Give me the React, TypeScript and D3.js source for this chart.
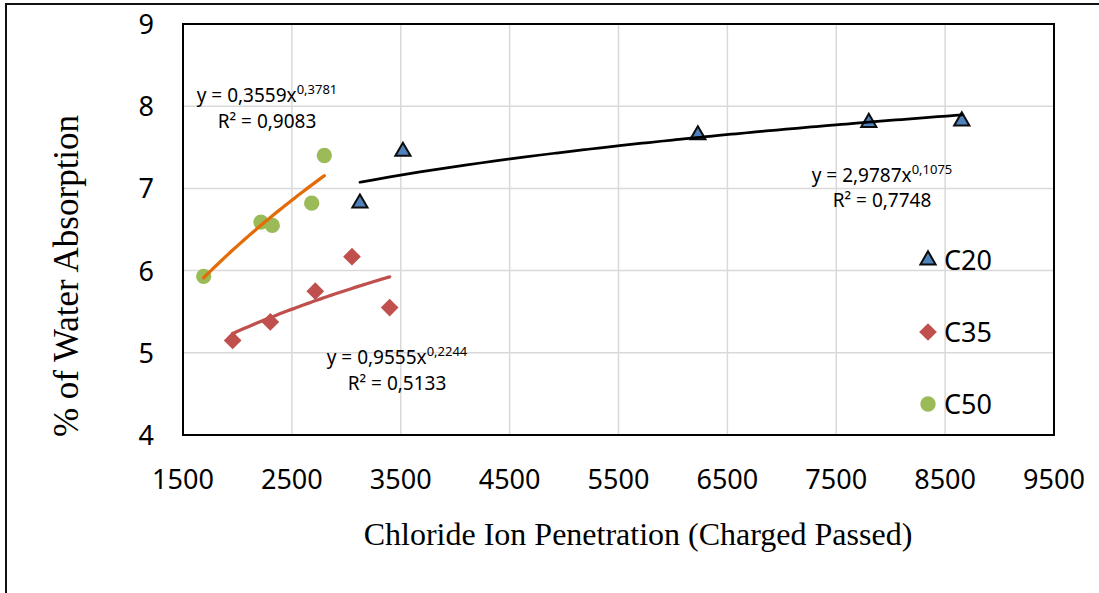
import React, { useEffect, useRef } from 'react';
import * as d3 from 'd3';

// x ticks (charge passed) and y ticks (% absorption)
const xTicks = [1500, 2500, 3500, 4500, 5500, 6500, 7500, 8500, 9500];
const yTicks = [4, 5, 6, 7, 8, 9];

const c20X = [3125, 3520, 6229, 7799, 8653];
const c20Y = [6.82, 7.45, 7.65, 7.8, 7.82];
const c35X = [1956, 2302, 2715, 3052, 3398];
const c35Y = [5.15, 5.375, 5.75, 6.17, 5.55];
const c50X = [1690, 2216, 2320, 2682, 2798];
const c50Y = [5.93, 6.59, 6.55, 6.82, 7.4];

// power trendline coefficients y = a * x^b (as printed on the chart)
const c20Fit = [2.9787, 0.1075];
const c35Fit = [0.9555, 0.2244];
const c50Fit = [0.3559, 0.3781];

const seriesNames = ['C20', 'C35', 'C50'];
const eqText = ['y = 2,9787x', 'y = 0,9555x', 'y = 0,3559x'];
const eqPow = ['0,1075', '0,2244', '0,3781'];
const r2Text = ['R² = 0,7748', 'R² = 0,5133', 'R² = 0,9083'];

const App = () => {
  const ref = useRef(null);

  const graph = () => {
    const svg = d3.select(ref.current);
    svg.selectAll('*').remove();

    const left = 183, right = 1054, top = 24, bottom = 435;
    const x = d3.scaleLinear().domain([1500, 9500]).range([left, right]);
    const y = d3.scaleLinear().domain([4, 9]).range([bottom, top]);

    const font = "'Noto Sans', 'Open Sans', sans-serif";
    const serif = "'Liberation Serif', 'Times New Roman', serif";

    // outer frame of the figure
    svg.append('path')
      .attr('d', 'M6,600 L6,4 L1099,4')
      .attr('fill', 'none')
      .attr('stroke', '#111')
      .attr('stroke-width', 2);

    // grid
    const grid = svg.append('g').attr('stroke', '#d9d9d9').attr('stroke-width', 1.5);
    grid.selectAll('line.v')
      .data(xTicks)
      .enter().append('line')
      .attr('x1', d => x(d)).attr('x2', d => x(d))
      .attr('y1', top).attr('y2', bottom);
    grid.selectAll('line.h')
      .data(yTicks)
      .enter().append('line')
      .attr('x1', left).attr('x2', right)
      .attr('y1', d => y(d)).attr('y2', d => y(d));

    svg.append('rect')
      .attr('x', left).attr('y', top)
      .attr('width', right - left).attr('height', bottom - top)
      .attr('fill', 'none')
      .attr('stroke', '#000')
      .attr('stroke-width', 2);

    // tick labels
    svg.append('g')
      .selectAll('text')
      .data(xTicks)
      .enter().append('text')
      .attr('x', d => x(d))
      .attr('y', 489)
      .attr('text-anchor', 'middle')
      .style('font-family', font)
      .style('font-size', '27px')
      .text(d => d);

    svg.append('g')
      .selectAll('text')
      .data(yTicks)
      .enter().append('text')
      .attr('x', 154)
      .attr('y', d => y(d) + 10)
      .attr('text-anchor', 'end')
      .style('font-family', font)
      .style('font-size', '27px')
      .text(d => d);

    // axis titles
    svg.append('text')
      .attr('x', 638)
      .attr('y', 545)
      .attr('text-anchor', 'middle')
      .style('font-family', serif)
      .style('font-size', '32px')
      .text('Chloride Ion Penetration (Charged Passed)');

    svg.append('text')
      .attr('transform', 'translate(78, 276) rotate(-90)')
      .attr('text-anchor', 'middle')
      .style('font-family', serif)
      .style('font-size', '35px')
      .text('% of Water Absorption');

    const diamond = d3.symbolDiamond2 || d3.symbolDiamond;

    const series = [
      { xs: c20X, ys: c20Y, fit: c20Fit, fill: '#4F81BD', stroke: '#0d0d0d', line: '#000', lw: 2.75, sym: d3.symbolTriangle, size: 100 },
      { xs: c35X, ys: c35Y, fit: c35Fit, fill: '#C0504D', stroke: 'none', line: '#C0504D', lw: 3.25, sym: diamond, size: 200 },
      { xs: c50X, ys: c50Y, fit: c50Fit, fill: '#9BBB59', stroke: 'none', line: '#E36C09', lw: 3.25, sym: d3.symbolCircle, size: 185 },
    ];

    const lineGen = d3.line().x(d => x(d[0])).y(d => y(d[1])).curve(d3.curveMonotoneX);

    // trendlines from the printed equations, drawn over the data range
    series.forEach(s => {
      const [lo, hi] = d3.extent(s.xs);
      s.pts = d3.range(0, 41).map(i => {
        const xv = lo + (hi - lo) * i / 40;
        return [xv, s.fit[0] * Math.pow(xv, s.fit[1])];
      });
    });

    // markers
    series.forEach(s => {
      svg.append('g')
        .selectAll('path')
        .data(s.xs.map((d, i) => [d, s.ys[i]]))
        .enter().append('path')
        .attr('transform', d => `translate(${x(d[0])},${y(d[1])})`)
        .attr('d', d3.symbol().type(s.sym).size(s.size))
        .attr('fill', s.fill)
        .attr('stroke', s.stroke)
        .attr('stroke-width', 2);
    });

    series.forEach(s => {
      svg.append('path')
        .attr('d', lineGen(s.pts))
        .attr('fill', 'none')
        .attr('stroke', s.line)
        .attr('stroke-width', s.lw)
        .attr('stroke-linecap', 'round');
    });

    // trendline labels
    const eqPos = [[882, 182, 207], [397, 364, 390], [267, 102, 128]];
    eqPos.forEach((p, i) => {
      const t = svg.append('text')
        .attr('x', p[0]).attr('y', p[1])
        .attr('text-anchor', 'middle')
        .style('font-family', font)
        .style('font-size', '19px');
      t.append('tspan').text(eqText[i]);
      t.append('tspan').attr('dy', -8).style('font-size', '13px').text(eqPow[i]);
      svg.append('text')
        .attr('x', p[0]).attr('y', p[2])
        .attr('text-anchor', 'middle')
        .style('font-family', font)
        .style('font-size', '19px')
        .text(r2Text[i]);
    });

    // legend
    const legend = svg.append('g')
      .selectAll('g')
      .data(seriesNames)
      .enter().append('g')
      .attr('transform', (d, i) => `translate(928, ${260 + i * 72})`);

    legend.append('path')
      .attr('d', (d, i) => d3.symbol().type(series[i].sym).size(series[i].size)())
      .attr('fill', (d, i) => series[i].fill)
      .attr('stroke', (d, i) => series[i].stroke)
      .attr('stroke-width', 2);

    legend.append('text')
      .attr('x', 16)
      .attr('y', 10)
      .style('font-family', font)
      .style('font-size', '27px')
      .text(d => d);
  };

  useEffect(() => graph());

  return (
    <svg ref={ref} width="1099" height="593" style={{ position: 'absolute', left: 0, top: 0, background: '#fff' }}></svg>
  );
};

export default App;
